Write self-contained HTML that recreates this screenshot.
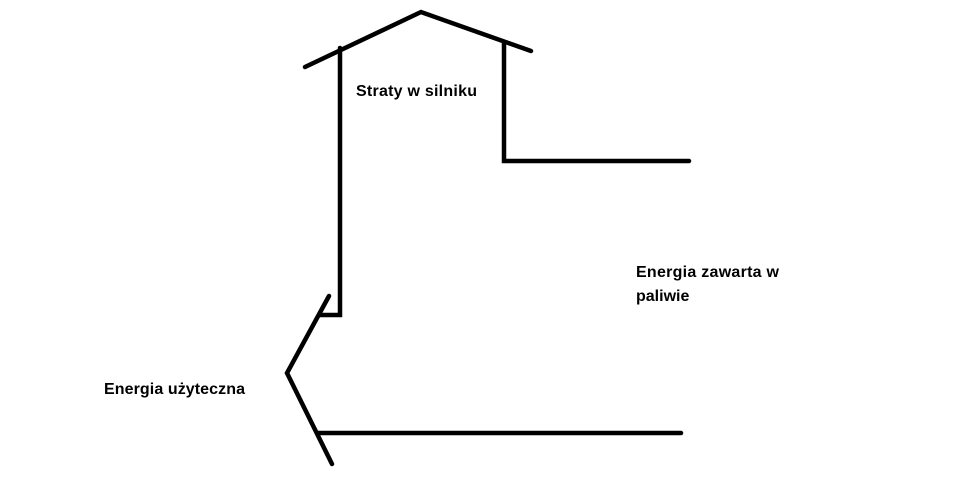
<!DOCTYPE html>
<html><head><style>
body{margin:0;background:#fff;}
svg{display:block}
text{font-family:"Liberation Sans",sans-serif;font-weight:bold;font-size:16px;fill:#000}
</style></head><body>
<svg width="955" height="490" viewBox="0 0 955 490">
<g stroke="#000" stroke-width="4.5" fill="none" stroke-linecap="round" stroke-linejoin="miter">
<polyline points="305,67 421,12 531,51"/>
<polyline points="340,48 340,315 320,315"/>
<polyline points="329,296 287,373 332,464"/>
<line x1="318" y1="433" x2="681" y2="433"/>
<polyline points="504,42 504,161 689,161"/>
</g>
<text x="356" y="96" textLength="121">Straty w silniku</text>
<text x="636" y="277" textLength="143">Energia zawarta w</text>
<text x="636" y="301">paliwie</text>
<text x="104" y="394" textLength="141">Energia użyteczna</text>
</svg>
</body></html>
